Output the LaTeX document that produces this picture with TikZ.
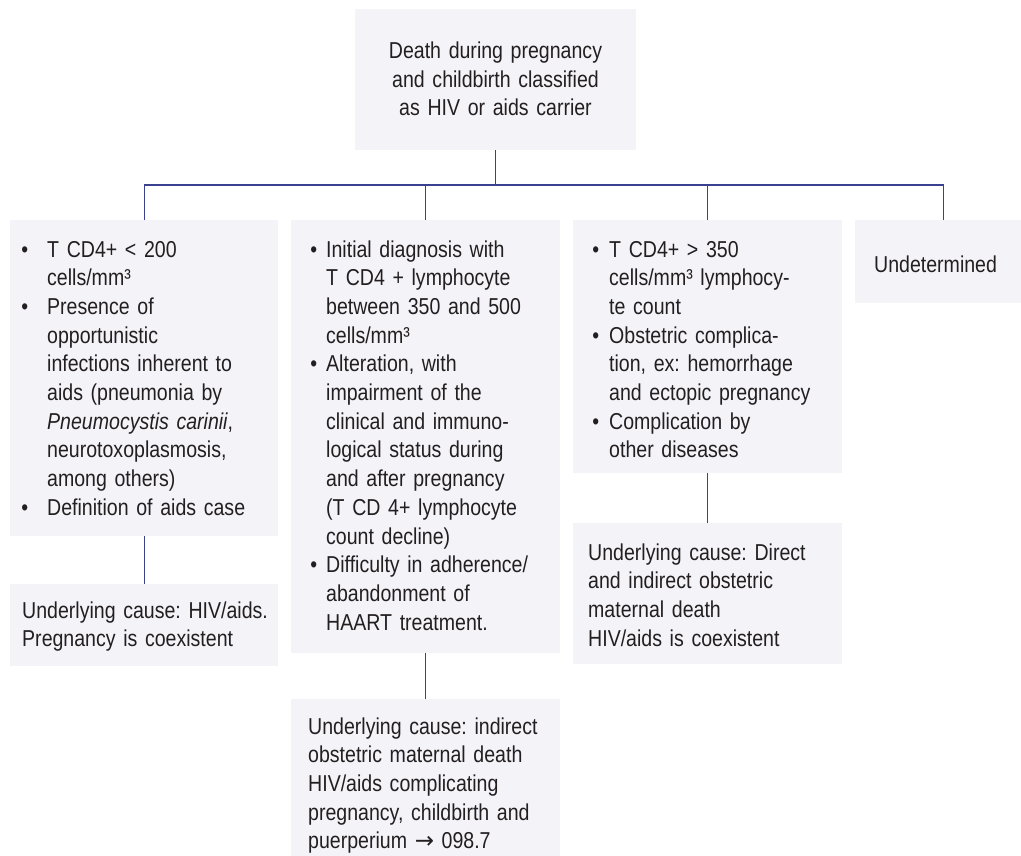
\documentclass[tikz,border=0pt]{standalone}
\usepackage{fontspec}
\setmainfont{Liberation Sans}[FakeStretch=0.85]
\newfontfamily\arrowfont{DejaVu Sans}
\definecolor{boxfill}{HTML}{F3F3F8}
\definecolor{linecol}{HTML}{3A4290}
\definecolor{txtcol}{HTML}{231F20}
\newcommand{\bul}[1]{\leavevmode\llap{\textbullet\hspace{#1}}}
\frenchspacing
\begin{document}
\begin{tikzpicture}[x=1pt,y=-1pt,
  box/.style={fill=boxfill,draw=none,inner sep=0pt,anchor=north west},
  txt/.style={text=txtcol,font=\fontsize{23}{28.7}\selectfont\frenchspacing,inner sep=0pt,
    anchor=base west,text width=300pt,align=left},
  conn/.style={draw=linecol,line width=1.3pt}]
\useasboundingbox (0,0) rectangle (1021,855);
\clip (0,0) rectangle (1021,855);
% boxes
\node[box,minimum width=281pt,minimum height=141pt] (top) at (355,9) {};
\node[box,minimum width=268pt,minimum height=316pt] (A) at (10,220) {};
\node[box,minimum width=269pt,minimum height=433pt] (B) at (291,220) {};
\node[box,minimum width=269pt,minimum height=253pt] (C) at (573,220) {};
\node[box,minimum width=176pt,minimum height=83pt] (D) at (855,220) {};
\node[box,minimum width=268pt,minimum height=82pt] (Ac) at (10,584) {};
\node[box,minimum width=269pt,minimum height=170pt] (Bc) at (291,699) {};
\node[box,minimum width=269pt,minimum height=141pt] (Cc) at (573,523) {};
% connectors
\coordinate (bus) at (0,185);
\draw[conn] (top.south) -- (top.south |- bus);
\draw[conn] (A.north) -- (A.north |- bus) -- (D.north |- bus) -- (D.north);
\draw[conn] (B.north |- bus) -- (B.north);
\draw[conn] (C.north |- bus) -- (C.north);
\draw[conn] (A.south) -- (Ac.north);
\draw[conn] (B.south) -- (Bc.north);
\draw[conn] (C.south) -- (Cc.north);
% texts
\node[txt,anchor=base,text width=281pt,align=center] (tTop) at (495.5,58.5)
  {Death during pregnancy\\ and childbirth classified\\ as HIV or aids carrier};
\node[txt] (tA) at (47,257) {\bul{19pt}T CD4+ < 200\\ cells/mm³\\
  \bul{19pt}Presence of\\ opportunistic\\ infections inherent to\\
  aids (pneumonia by\\ \textit{Pneumocystis carinii},\\ neurotoxoplasmosis,\\
  among others)\\ \bul{19pt}Definition of aids case};
\node[txt] (tB) at (326,257) {\bul{9pt}Initial diagnosis with\\ T CD4 + lymphocyte\\
  between 350 and 500\\ cells/mm³\\ \bul{9pt}Alteration, with\\ impairment of the\\
  clinical and immuno-\\ logical status during\\ and after pregnancy\\
  (T CD 4+ lymphocyte\\ count decline)\\ \bul{9pt}Difficulty in adherence/\\
  abandonment of\\ HAART treatment.};
\node[txt] (tC) at (609,257) {\bul{10pt}T CD4+ > 350\\ cells/mm³ lymphocy-\\
  te count\\ \bul{10pt}Obstetric complica-\\ tion, ex: hemorrhage\\
  and ectopic pregnancy\\ \bul{10pt}Complication by\\ other diseases};
\node[txt] (tD) at (874,272) {Undetermined};
\node[txt] (tAc) at (22,618) {Underlying cause: HIV/aids.\\ Pregnancy is coexistent};
\node[txt] (tBc) at (308,734) {Underlying cause: indirect\\ obstetric maternal death\\
  HIV/aids complicating\\ pregnancy, childbirth and\\ puerperium {\arrowfont →} 098.7};
\node[txt] (tCc) at (588,560) {Underlying cause: Direct\\ and indirect obstetric\\
  maternal death\\ HIV/aids is coexistent};
\end{tikzpicture}
\end{document}
